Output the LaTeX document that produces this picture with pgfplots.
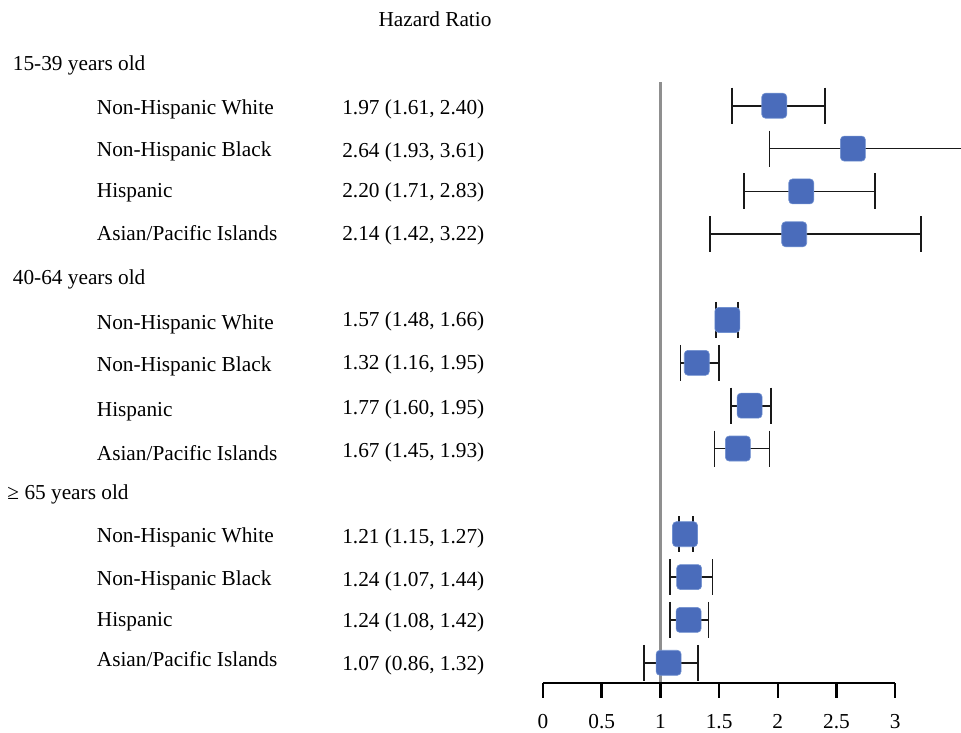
\documentclass[border=0pt]{standalone}
\usepackage{fontspec}
\setmainfont{Liberation Serif}
\usepackage{pgfplots}
\pgfplotsset{compat=1.18}
\usepackage{pgfplotstable}
\definecolor{mk}{HTML}{4A6CBB}
\definecolor{mkb}{HTML}{7090D0}
\definecolor{refl}{HTML}{8F8F8F}
\newcommand\fs{\fontsize{21.3pt}{25pt}\selectfont}
\pgfdeclareplotmark{rsquare}{%
  \pgfmathsetlengthmacro\rsS{\pgfplotmarksize}%
  \pgfmathsetlengthmacro\rsR{0.3*\pgfplotmarksize}%
  \pgfmathsetlengthmacro\rsA{0.7*\pgfplotmarksize}%
  \pgfpathmoveto{\pgfpoint{-\rsA}{-\rsS}}%
  \pgfpathlineto{\pgfpoint{\rsA}{-\rsS}}%
  \pgfpatharc{-90}{0}{\rsR}%
  \pgfpathlineto{\pgfpoint{\rsS}{\rsA}}%
  \pgfpatharc{0}{90}{\rsR}%
  \pgfpathlineto{\pgfpoint{-\rsA}{\rsS}}%
  \pgfpatharc{90}{180}{\rsR}%
  \pgfpathlineto{\pgfpoint{-\rsS}{-\rsA}}%
  \pgfpatharc{180}{270}{\rsR}%
  \pgfpathclose
  \pgfusepathqfillstroke}
\pgfplotstableread{
row hr
2 1.97
3 2.64
4 2.20
5 2.14
7 1.57
8 1.31
9 1.76
10 1.66
12 1.21
13 1.245
14 1.24
15 1.07
}\hrdata
\pgfplotsset{ci/.style={black!90, line width=1.7pt, mark=|, mark size=18pt,
  mark options={solid, line width=1.7pt}}}
\begin{document}
\begin{tikzpicture}
\begin{axis}[at={(0,0)}, anchor=south west, scale only axis,
  width=418pt, height=683pt, xmin=0, xmax=3.5605, ymin=-0.467, ymax=15.472,
  y dir=reverse, axis lines=none, clip mode=individual]
\addplot[refl, line width=2.5pt] coordinates {(1,1.45) (1,15.47)};
\addplot[ci] coordinates {(1.61,2) (2.40,2)};
\addplot[ci] coordinates {(1.93,3) (3.61,3)};
\addplot[ci] coordinates {(1.71,4) (2.83,4)};
\addplot[ci] coordinates {(1.425,5) (3.22,5)};
\addplot[ci] coordinates {(1.475,7) (1.66,7)};
\addplot[ci] coordinates {(1.17,8) (1.50,8)};
\addplot[ci] coordinates {(1.60,9) (1.94,9)};
\addplot[ci] coordinates {(1.46,10) (1.93,10)};
\addplot[ci] coordinates {(1.16,12) (1.275,12)};
\addplot[ci] coordinates {(1.08,13) (1.445,13)};
\addplot[ci] coordinates {(1.08,14) (1.41,14)};
\addplot[ci] coordinates {(0.86,15) (1.32,15)};
\addplot[only marks, mark=rsquare, mark size=12.5pt,
  mark options={fill=mk, draw=mkb, line width=0.6pt}]
  table[x=hr, y=row] {\hrdata};
\begin{scope}[every node/.style={font=\fs, inner sep=0pt, anchor=base west}]
\node[anchor=base] at (axis cs:-0.92,0.14) {Hazard Ratio};
\node at (axis cs:-4.517,1.167) {15-39 years old};
\node at (axis cs:-3.8015,2.194) {Non-Hispanic White};
\node at (axis cs:-3.8015,3.19) {Non-Hispanic Black};
\node at (axis cs:-3.8015,4.138) {Hispanic};
\node at (axis cs:-3.8015,5.134) {Asian/Pacific Islands};
\node at (axis cs:-4.517,6.161) {40-64 years old};
\node at (axis cs:-3.8015,7.211) {Non-Hispanic White};
\node at (axis cs:-3.8015,8.208) {Non-Hispanic Black};
\node at (axis cs:-3.8015,9.258) {Hispanic};
\node at (axis cs:-3.8015,10.268) {Asian/Pacific Islands};
\node at (axis cs:-4.563,11.186) {≥ 65 years old};
\node at (axis cs:-3.8015,12.198) {Non-Hispanic White};
\node at (axis cs:-3.8015,13.185) {Non-Hispanic Black};
\node at (axis cs:-3.8015,14.159) {Hispanic};
\node at (axis cs:-3.8015,15.09) {Asian/Pacific Islands};
\end{scope}
\begin{scope}[every node/.style={font=\fs, inner sep=0pt, anchor=base east}]
\node at (axis cs:-0.4983,2.194) {1.97 (1.61, 2.40)};
\node at (axis cs:-0.4983,3.197) {2.64 (1.93, 3.61)};
\node at (axis cs:-0.4983,4.131) {2.20 (1.71, 2.83)};
\node at (axis cs:-0.4983,5.134) {2.14 (1.42, 3.22)};
\node at (axis cs:-0.4983,7.157) {1.57 (1.48, 1.66)};
\node at (axis cs:-0.4983,8.145) {1.32 (1.16, 1.95)};
\node at (axis cs:-0.4983,9.195) {1.77 (1.60, 1.95)};
\node at (axis cs:-0.4983,10.221) {1.67 (1.45, 1.93)};
\node at (axis cs:-0.4983,12.212) {1.21 (1.15, 1.27)};
\node at (axis cs:-0.4983,13.209) {1.24 (1.07, 1.44)};
\node at (axis cs:-0.4983,14.173) {1.24 (1.08, 1.42)};
\node at (axis cs:-0.4983,15.19) {1.07 (0.86, 1.32)};
\end{scope}
\end{axis}
\begin{axis}[at={(0,0)}, anchor=south west, scale only axis,
  width=352.2pt, height=683pt, xmin=0, xmax=3, ymin=0, ymax=1,
  axis x line*=bottom, axis y line=none,
  xtick={0,0.5,1,1.5,2,2.5,3}, tick align=outside, major tick length=15pt,
  every tick/.style={black, line width=2.5pt},
  axis line style={black, line width=2.5pt},
  ticklabel style={font=\fs}, xticklabel style={yshift=-13pt},
  /pgf/number format/assume math mode=true]
\addplot[draw=none] coordinates {(0,0)};
\end{axis}
\pgfresetboundingbox
\path[use as bounding box] (-543pt,-50pt) rectangle (418pt,683pt);
\end{tikzpicture}
\end{document}
